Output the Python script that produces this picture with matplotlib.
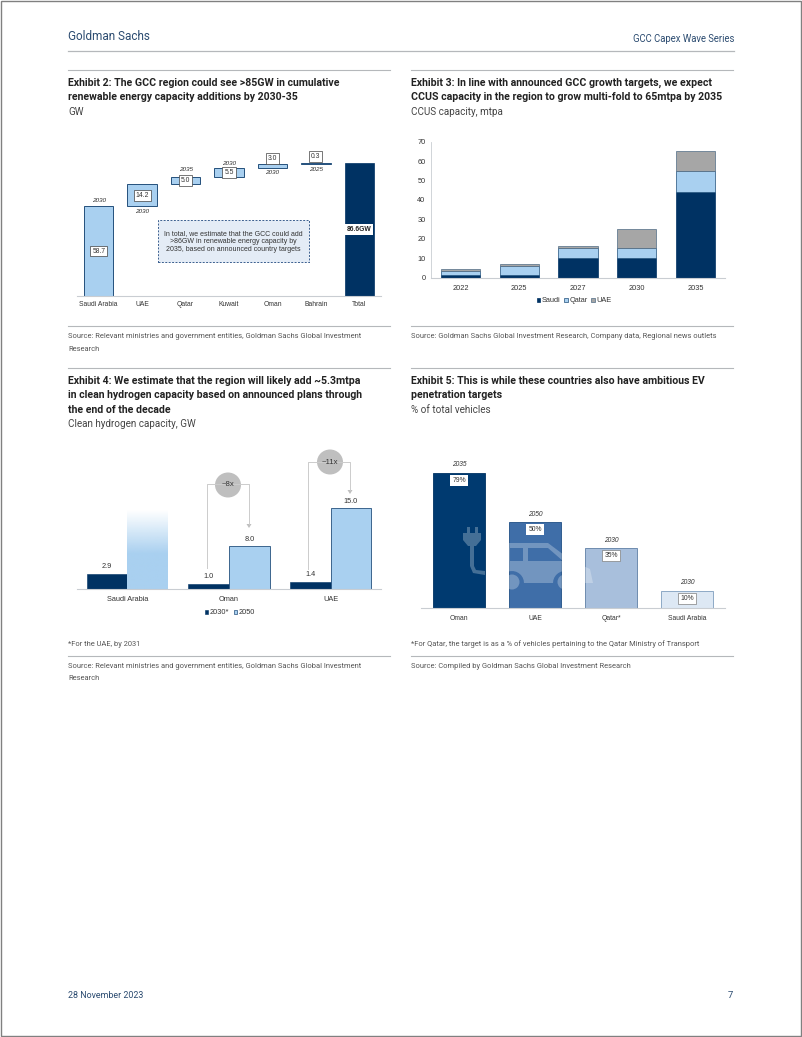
import numpy as np
import matplotlib
matplotlib.use("Agg")
import matplotlib.pyplot as plt
from matplotlib.patches import Rectangle, Ellipse, PathPatch, Polygon
from matplotlib.path import Path
from matplotlib.lines import Line2D
from matplotlib.colors import to_rgb

W, H = 802, 1037
NAVY = '#003263'
LIGHT = '#A9D0F0'
GREY = '#A6A6A6'
AX = '#C9CDD2'
TXT = '#333333'
SANS = ['Liberation Sans', 'DejaVu Sans']
NARROW = ['Roboto', 'DejaVu Sans']

# Exhibit 2
wf_cats = ['Saudi Arabia', 'UAE', 'Qatar', 'Kuwait', 'Oman', 'Bahrain', 'Total']
wf_vals = [58.7, 14.2, 5.0, 5.5, 3.0, 0.3]
wf_years = ['2030', '2030', '2035', '2030', '2030', '2025']
wf_total = 86.6
# Exhibit 3
cc_years = ['2022', '2025', '2027', '2030', '2035']
cc_saudi = [1.3, 1.3, 10.3, 10.3, 44.0]
cc_qatar = [2.0, 4.5, 5.0, 5.0, 11.0]
cc_uae = [1.1, 1.3, 1.0, 10.0, 10.0]
# Exhibit 4
h2_cats = ['Saudi Arabia', 'Oman', 'UAE']
h2_2030 = [2.9, 1.0, 1.4]
h2_2050 = [14.6, 8.0, 15.0]
h2_labels_2050 = ['', '8.0', '15.0']
# Exhibit 5
ev_cats = ['Oman', 'UAE', 'Qatar*', 'Saudi Arabia']
ev_vals = [79, 50, 35, 10]
ev_years = ['2035', '2050', '2030', '2030']
ev_cols = ['#003A70', '#3F6EA8', '#A8BFDC', '#DDE8F4']

fig = plt.figure(figsize=(W / 100, H / 100), dpi=100, facecolor='white')


def fx(x):
    return x / W


def fy(y):
    return 1 - y / H


def tx(x, y, s, size=6.2, color=TXT, family=NARROW, weight='normal', ha='left', **k):
    return fig.text(fx(x), fy(y), s, fontsize=size, color=color, family=family,
                    fontweight=weight, ha=ha, va='center', **k)


def rule(x0, x1, y, color='#B5B8BB', lw=0.8):
    fig.add_artist(Line2D([fx(x0), fx(x1)], [fy(y), fy(y)], color=color, lw=lw))


def make_ax(x0, x1, ytop, ybase):
    ax = fig.add_axes([fx(x0), fy(ybase), (x1 - x0) / W, (ybase - ytop) / H])
    ax.patch.set_alpha(0)
    for s in ax.spines.values():
        s.set_visible(False)
    ax.spines['bottom'].set_visible(True)
    ax.spines['bottom'].set_color(AX)
    ax.spines['bottom'].set_linewidth(0.8)
    ax.set_yticks([])
    return ax


def off(ax, s, x, y, dy, size, style='normal', box=None, weight='normal', color=TXT):
    ax.annotate(s, (x, y), xytext=(0, dy * 0.72), textcoords='offset points', ha='center',
                va='center', fontsize=size, fontstyle=style, family=SANS, color=color,
                fontweight=weight, bbox=box, zorder=6)


# page border
fig.add_artist(Rectangle((fx(0.7), fy(1036.3)), 800.6 / W, 1035.6 / H, transform=fig.transFigure,
                         fc='none', ec='#808080', lw=1.0))

# page furniture
tx(68, 36, 'Goldman Sachs', size=8.5, color='#2B4B70')
tx(734, 38.5, 'GCC Capex Wave Series', size=6.85, color='#2B4B70', ha='right')
rule(68, 734, 51, lw=0.9)
tx(68, 995, '28 November 2023', size=6.4, color='#2B4B70')
tx(733, 995.5, '7', size=6.8, color='#2B4B70', ha='right')

TS, SS, FS = 7.6, 7.15, 5.4
TC, SC, FC = '#222222', '#444444', '#555555'
rule(68, 390, 70)
tx(68, 83, 'Exhibit 2: The GCC region could see >85GW in cumulative', TS, TC, weight='bold')
tx(68, 97.5, 'renewable energy capacity additions by 2030-35', TS, TC, weight='bold')
tx(68, 112, 'GW', SS, SC)
rule(411, 733, 70)
tx(411, 83, 'Exhibit 3: In line with announced GCC growth targets, we expect', TS, TC, weight='bold')
tx(411, 97.5, 'CCUS capacity in the region to grow multi-fold to 65mtpa by 2035', TS, TC, weight='bold')
tx(411, 112, 'CCUS capacity, mtpa', SS, SC)
rule(68, 390, 326)
tx(68, 337, 'Source: Relevant ministries and government entities, Goldman Sachs Global Investment', FS, FC)
tx(68, 349, 'Research', FS, FC)
rule(411, 733, 326)
tx(411, 337, 'Source: Goldman Sachs Global Investment Research, Company data, Regional news outlets', FS, FC)
rule(68, 390, 368)
tx(68, 381, 'Exhibit 4: We estimate that the region will likely add ~5.3mtpa', TS, TC, weight='bold')
tx(68, 395.5, 'in clean hydrogen capacity based on announced plans through', TS, TC, weight='bold')
tx(68, 410, 'the end of the decade', TS, TC, weight='bold')
tx(68, 424, 'Clean hydrogen capacity, GW', SS, SC)
rule(411, 733, 368)
tx(411, 381, 'Exhibit 5: This is while these countries also have ambitious EV', TS, TC, weight='bold')
tx(411, 395.5, 'penetration targets', TS, TC, weight='bold')
tx(411, 410, '% of total vehicles', SS, SC)
tx(68, 644, '*For the UAE, by 2031', FS, FC)
rule(68, 390, 656)
tx(68, 666, 'Source: Relevant ministries and government entities, Goldman Sachs Global Investment', FS, FC)
tx(68, 678, 'Research', FS, FC)
tx(411, 644, '*For Qatar, the target is as a % of vehicles pertaining to the Qatar Ministry of Transport', FS, FC)
rule(411, 733, 656)
tx(411, 666, 'Source: Compiled by Goldman Sachs Global Investment Research', FS, FC)

# ---- Exhibit 2
a1 = make_ax(77, 381, 130, 296)
a1.set_xlim(-0.5, 6.5)
a1.set_ylim(0, 166 / 1.533)
bottoms = np.concatenate([[0], np.cumsum(wf_vals)[:-1]])
xs = np.arange(len(wf_vals))
a1.bar(xs, wf_vals, bottom=bottoms, width=0.68, color=LIGHT, edgecolor='#24507C', linewidth=0.7)
a1.bar([6], [wf_total], width=0.68, color=NAVY, edgecolor=NAVY, linewidth=0.5)
a1.set_xticks(np.arange(7), wf_cats, fontsize=4.9, color=TXT, family=SANS)
a1.tick_params(axis='x', length=0, pad=3.5)
box1 = dict(boxstyle='square,pad=0.28', fc='white', ec='#404040', lw=0.5)
tops = bottoms + np.array(wf_vals)
label_dy = [0, 0, 0, 0, 7, 7]
year_ref = [tops[0], bottoms[1], tops[2], tops[3], bottoms[4], bottoms[5]]
year_dy = [6, -5, 7, 5, -4.5, -6]
for i, v in enumerate(wf_vals):
    off(a1, f'{v:.1f}', i, bottoms[i] + v / 2, label_dy[i], 4.9, box=box1)
    off(a1, wf_years[i], i, year_ref[i], year_dy[i], 4.6, style='italic')
off(a1, '86.6GW', 6, wf_total / 2, 0, 4.9, weight='bold', color='#222222',
    box=dict(boxstyle='square,pad=0.25', fc='white', ec='none'))
fig.add_artist(Rectangle((fx(158), fy(262)), 151 / W, 42 / H, transform=fig.transFigure,
                         fc='#E4ECF6', ec='#3B5F8F', lw=0.7, ls=(0, (2, 1.5)), zorder=2))
for y, s in zip([233.3, 241.3, 249.3], ['In total, we estimate that the GCC could add',
                                        '>86GW in renewable energy capacity by',
                                        '2035, based on announced country targets']):
    tx(233.5, y, s, 5.0, '#333333', SANS, ha='center')

# ---- Exhibit 3
a2 = make_ax(431, 725, 141.7, 277.7)
a2.spines['left'].set_visible(True)
a2.spines['left'].set_color(AX)
a2.spines['left'].set_linewidth(0.6)
a2.set_xlim(-0.5, 4.5)
a2.set_ylim(0, 70)
xs2 = np.arange(5)
s_, q_, u_ = map(np.array, (cc_saudi, cc_qatar, cc_uae))
a2.bar(xs2, s_, width=0.67, color=NAVY, edgecolor=NAVY, lw=0.5, label='Saudi')
a2.bar(xs2, q_, bottom=s_, width=0.67, color=LIGHT, edgecolor='#1F4E79', lw=0.5, label='Qatar')
a2.bar(xs2, u_, bottom=s_ + q_, width=0.67, color=GREY, edgecolor='#4F6B85', lw=0.5, label='UAE')
a2.set_xticks(xs2, cc_years, fontsize=5.3, color=TXT, family=SANS)
a2.set_yticks(np.arange(0, 71, 10))
a2.tick_params(axis='y', length=0, labelsize=5.3, labelcolor=TXT, pad=4)
a2.tick_params(axis='x', length=0, pad=5)
for t in a2.get_yticklabels():
    t.set_family(SANS)
a2.legend(loc='center', bbox_to_anchor=(fx(574), fy(301)), bbox_transform=fig.transFigure, ncol=3,
          frameon=False, handlelength=0.5, handleheight=0.5, handletextpad=0.2,
          columnspacing=0.5, labelcolor=TXT, prop=dict(family=SANS, size=5.3))

# ---- Exhibit 4
a3 = make_ax(76.5, 381.5, 445, 589.3)
a3.set_xlim(-0.5, 2.5)
a3.set_ylim(0, 144.3 / 5.4)
xs3 = np.arange(3)
bw = 0.4
a3.bar(xs3 - bw / 2, h2_2030, width=bw, color=NAVY, edgecolor=NAVY, lw=0.4)
a3.bar(xs3[1:] + bw / 2, h2_2050[1:], width=bw, color=LIGHT, edgecolor='#24507C', lw=0.6)
# first 2050 bar fades out to white towards its top
grad = np.ones((100, 1, 4))
grad[:, 0, :3] = to_rgb(LIGHT)
grad[:, 0, 3] = np.clip(np.linspace(0, 1, 100) / 0.55, 0, 1)
a3.imshow(grad, extent=(xs3[0], xs3[0] + bw, 0, h2_2050[0]), aspect='auto', zorder=2, interpolation='bilinear')
a3.set_xlim(-0.5, 2.5)
a3.set_ylim(0, 144.3 / 5.4)
a3.set_xticks(xs3, h2_cats, fontsize=5.3, color=TXT, family=SANS)
a3.tick_params(axis='x', length=0, pad=5)
for i in xs3:
    off(a3, f'{h2_2030[i]:.1f}', i - bw / 2, h2_2030[i], 7, 5.3)
    if h2_labels_2050[i]:
        off(a3, h2_labels_2050[i], i + bw / 2, h2_2050[i], 7, 5.3)
handles = [Rectangle((0, 0), 1, 1, fc=NAVY, ec=NAVY, lw=0.4),
           Rectangle((0, 0), 1, 1, fc=LIGHT, ec='#24507C', lw=0.5)]
a3.legend(handles, ['2030*', '2050'], loc='center', bbox_to_anchor=(fx(230), fy(613)),
          bbox_transform=fig.transFigure, ncol=2, frameon=False, handlelength=0.5, handleheight=0.5,
          handletextpad=0.2, columnspacing=0.6, labelcolor=TXT, prop=dict(family=SANS, size=5.3))
for (lx, ly0, ly1, rx, ry1, cx, cy, lab) in [(207.3, 568, 484, 249, 527, 228, 485, '~8x'),
                                             (307.7, 569, 461.7, 350, 493, 330, 462, '~11x')]:
    fig.add_artist(Line2D([fx(lx), fx(lx), fx(rx), fx(rx)], [fy(ly0), fy(ly1), fy(ly1), fy(ry1 - 3)],
                          color='#CCCCCC', lw=0.7))
    fig.add_artist(Polygon([(fx(rx - 2.5), fy(ry1 - 3)), (fx(rx + 2.5), fy(ry1 - 3)), (fx(rx), fy(ry1 + 1))],
                           transform=fig.transFigure, fc='#BFBFBF', ec='none'))
    fig.add_artist(Ellipse((fx(cx), fy(cy)), 26 / W, 25 / H, transform=fig.transFigure, fc='#BFBFBF', ec='none'))
    tx(cx, cy, lab, 5.6, '#333333', SANS, ha='center')

# ---- Exhibit 5
a4 = make_ax(421, 725, 450, 608)
a4.set_xlim(-0.5, 3.5)
a4.set_ylim(0, 158 / 1.713)
xs4 = np.arange(4)
edges = ['#003263', '#1F4E85', '#5F7FA5', '#7F9DBE']
a4.bar(xs4, ev_vals, width=0.675, color=ev_cols, edgecolor=edges, lw=0.6)
a4.set_xticks(xs4, ev_cats, fontsize=4.9, color=TXT, family=SANS)
a4.tick_params(axis='x', length=0, pad=5)
ecs = ['none', 'none', '#7F7F7F', '#7F7F7F']
for i in xs4:
    off(a4, ev_years[i], i, ev_vals[i], 8, 4.8, style='italic')
    off(a4, f'{ev_vals[i]}%', i, ev_vals[i], -7.5, 4.9,
        box=dict(boxstyle='square,pad=0.28', fc='white', ec=ecs[i], lw=0.5))


# EV icon overlay
def P(pts):
    return [(fx(a), fy(b)) for a, b in pts]


def arch(cx, r, base):
    th = np.linspace(0, np.pi, 14)
    return [(cx + r * np.cos(t), base - r * np.sin(t)) for t in th]


body = [(488, 583), (488, 562), (506, 543), (548, 543), (572, 561), (590, 569), (593, 583)]
body += arch(565, 12, 583) + arch(512, 12, 583)
win1 = [(510, 548), (510, 561), (523, 561), (523, 548)]
win2 = [(528, 548), (528, 561), (563, 561), (548, 548)]
verts, codes = [], []
for poly in (body, win1, win2):
    pts = P(poly)
    verts += pts + [pts[0]]
    codes += [Path.MOVETO] + [Path.LINETO] * (len(pts) - 1) + [Path.CLOSEPOLY]
ICON = dict(fc='white', ec='none', alpha=0.27, transform=fig.transFigure)
fig.add_artist(PathPatch(Path(verts, codes), **ICON))
for cx in (512, 565):
    fig.add_artist(Ellipse((fx(cx), fy(582)), 15 / W, 15 / H, **ICON))
plug = [(467, 527), (467, 533), (470, 533), (470, 527)]
plug2 = [(475, 527), (475, 533), (478, 533), (478, 527)]
head = [(463, 533), (463, 540), (468, 546), (470, 546), (470, 566), (473, 573), (485, 575),
        (485, 571), (476, 570), (474, 566), (474, 546), (476, 546), (481, 540), (481, 533)]
for poly in (plug, plug2, head):
    fig.add_artist(Polygon(P(poly), **ICON))

fig.savefig('out.png', dpi=100)
